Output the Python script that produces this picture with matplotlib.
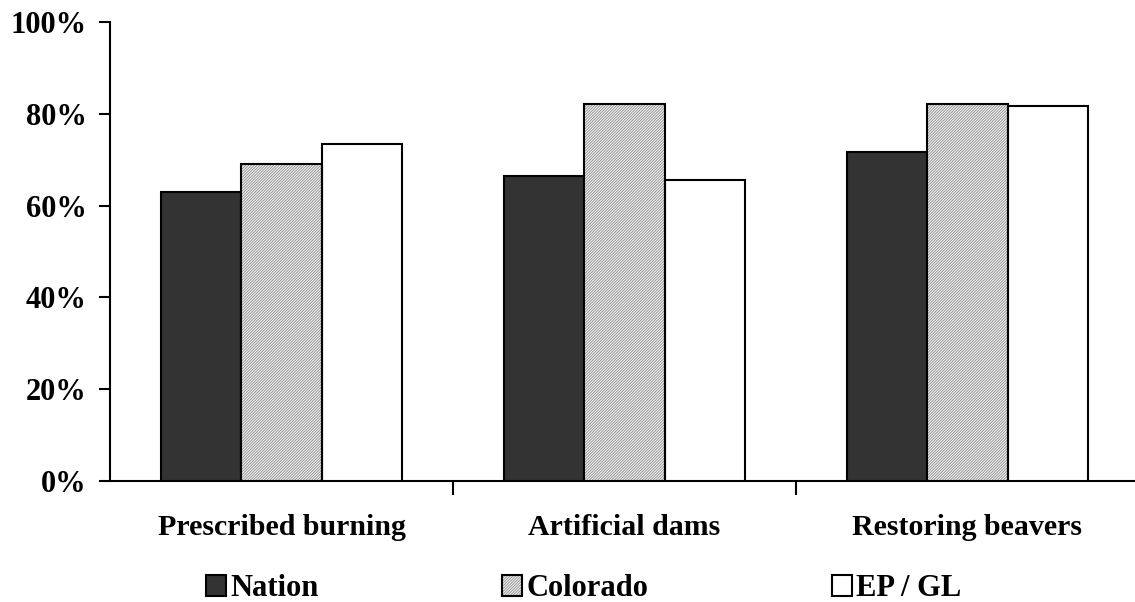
import matplotlib
matplotlib.use("Agg")
import matplotlib.pyplot as plt
import numpy as np
from matplotlib.legend_handler import HandlerTuple

categories = ["Prescribed burning", "Artificial dams", "Restoring beavers"]
series_names = ["Nation", "Colorado", "EP / GL"]
nation = [63.0, 66.4, 71.7]
colorado = [69.1, 82.1, 82.1]
epgl = [73.5, 65.6, 81.8]
yticks = [0, 20, 40, 60, 80, 100]
ytick_labels = ["0%", "20%", "40%", "60%", "80%", "100%"]

plt.rcParams['font.family'] = ['Liberation Serif', 'DejaVu Serif']
plt.rcParams['font.weight'] = 'bold'
plt.rcParams['hatch.linewidth'] = 0.7

W, H = 1135, 602
fig = plt.figure(figsize=(W / 100, H / 100), dpi=100)
ax = fig.add_axes([110 / W, 121 / H, 1029 / W, 459 / H])

x = np.arange(len(categories))
bw = 0.234

b1 = ax.bar(x - bw, nation, bw, color='#333333', edgecolor='black', linewidth=1.5, zorder=3)
b2h = ax.bar(x, colorado, bw, color='#f4f4f4', edgecolor='#999999', linewidth=0, hatch='/' * 12, zorder=3)
b2o = ax.bar(x, colorado, bw, fill=False, edgecolor='black', linewidth=1.5, zorder=4)
b3 = ax.bar(x + bw, epgl, bw, color='white', edgecolor='black', linewidth=1.5, zorder=3)

ax.set_xlim(-0.5, 2.5)
ax.set_ylim(0, 100)
ax.set_yticks(yticks)
ax.set_yticklabels(ytick_labels, fontsize=22, fontweight='bold')
ax.tick_params(axis='y', direction='out', length=8, width=1.5, pad=9)

ax.set_xticks([0.5, 1.5])
ax.set_xticklabels([])
ax.tick_params(axis='x', which='major', direction='out', length=10, width=1.5)
ax.set_xticks(x, minor=True)
ax.set_xticklabels(categories, minor=True, fontsize=21.5, fontweight='bold')
ax.tick_params(axis='x', which='minor', length=0, pad=24)

for s in ['top', 'right']:
    ax.spines[s].set_visible(False)
ax.spines['left'].set_linewidth(1.5)
ax.spines['bottom'].set_linewidth(1.5)
ax.spines['left'].set_bounds(0, 100)

handles = [b1[0], (b2h[0], b2o[0]), b3[0]]
anchors = [206, 502, 832]
for h, name, ax_x in zip(handles, series_names, anchors):
    leg = fig.legend([h], [name], loc='center left',
                     bbox_to_anchor=(ax_x / W, 1 - 589 / H),
                     frameon=False, handlelength=0.66, handleheight=0.66,
                     handletextpad=0.14, borderpad=0, borderaxespad=0,
                     handler_map={tuple: HandlerTuple(ndivide=1)},
                     prop={'weight': 'bold', 'size': 22})

fig.savefig("out.png", dpi=100)
